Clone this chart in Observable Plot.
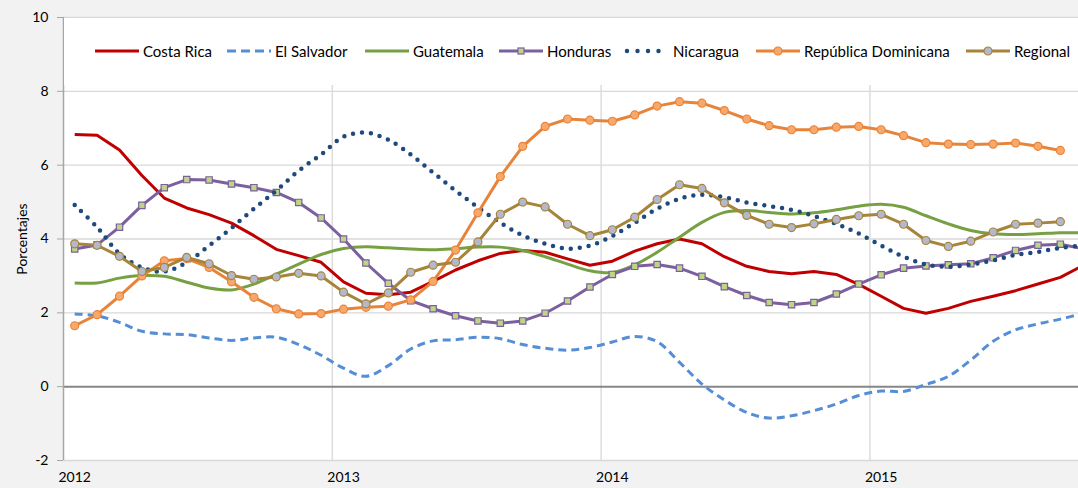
<!DOCTYPE html>
<html><head><meta charset="utf-8">
<script src="https://cdn.jsdelivr.net/npm/d3@7"></script>
<script src="https://cdn.jsdelivr.net/npm/@observablehq/plot@0.6"></script>
<style>
html,body{margin:0;padding:0;background:#f2f2f2;}
#wrap{position:relative;width:1078px;height:488px;overflow:hidden;font-family:Lato,sans-serif;}
#legend{position:absolute;top:18px;left:64px;right:0;height:67px;background:#fff;}
.item{position:absolute;top:23px;height:20px;display:flex;align-items:center;font-size:15px;color:#000;white-space:nowrap;}
.item svg{margin-right:4px;overflow:visible;}
</style></head><body><div id="wrap"></div>
<script>
// ---- data (monthly, Jan 2012 onward) ----
const years = ["2012", "2013", "2014", "2015"];
const yTicks = [-2, 0, 2, 4, 6, 8, 10];
const costaRica = [6.83,6.81,6.41,5.72,5.11,4.84,4.66,4.43,4.09,3.72,3.55,3.37,2.84,2.53,2.49,2.56,2.85,3.16,3.41,3.61,3.69,3.64,3.46,3.29,3.40,3.67,3.87,4.00,3.87,3.52,3.26,3.12,3.06,3.12,3.04,2.77,2.45,2.12,1.99,2.12,2.31,2.45,2.60,2.78,2.96,3.28];
const elSalvador = [1.97,1.92,1.74,1.50,1.43,1.41,1.32,1.25,1.32,1.34,1.14,0.85,0.50,0.28,0.57,1.02,1.24,1.27,1.34,1.30,1.14,1.04,0.99,1.06,1.21,1.36,1.22,0.66,0.07,-0.36,-0.70,-0.85,-0.79,-0.65,-0.47,-0.24,-0.12,-0.13,0.06,0.28,0.72,1.23,1.54,1.70,1.83,1.98];
const guatemala = [2.81,2.81,2.94,3.01,2.99,2.83,2.67,2.62,2.78,3.05,3.32,3.58,3.74,3.79,3.76,3.73,3.71,3.74,3.78,3.78,3.69,3.52,3.32,3.14,3.09,3.30,3.64,4.05,4.45,4.72,4.77,4.72,4.68,4.71,4.79,4.89,4.94,4.86,4.63,4.41,4.23,4.14,4.12,4.14,4.17,4.17];
const honduras = [3.73,3.84,4.32,4.91,5.39,5.61,5.60,5.49,5.39,5.26,4.99,4.57,4.00,3.35,2.80,2.33,2.11,1.92,1.78,1.72,1.78,1.99,2.32,2.70,3.04,3.26,3.31,3.21,2.99,2.71,2.47,2.28,2.22,2.28,2.51,2.78,3.03,3.21,3.27,3.30,3.33,3.49,3.69,3.83,3.86,3.74];
const nicaragua = [4.92,4.32,3.60,3.23,3.12,3.37,3.82,4.30,4.82,5.31,5.85,6.29,6.77,6.88,6.69,6.29,5.80,5.31,4.86,4.44,4.10,3.87,3.74,3.82,4.08,4.44,4.82,5.09,5.20,5.13,4.99,4.89,4.79,4.62,4.41,4.15,3.82,3.52,3.31,3.25,3.31,3.42,3.57,3.65,3.76,3.82];
const repDominicana = [1.65,1.95,2.45,3.00,3.41,3.47,3.23,2.84,2.42,2.11,1.97,1.98,2.10,2.15,2.18,2.35,2.85,3.70,4.71,5.69,6.51,7.05,7.25,7.22,7.19,7.36,7.60,7.72,7.68,7.48,7.25,7.07,6.96,6.96,7.03,7.05,6.96,6.80,6.61,6.57,6.56,6.57,6.60,6.51,6.40];
const regional = [3.87,3.83,3.53,3.12,3.23,3.50,3.33,3.01,2.91,2.97,3.07,3.00,2.56,2.24,2.54,3.10,3.29,3.37,3.92,4.67,5.00,4.87,4.40,4.09,4.25,4.59,5.07,5.47,5.37,4.98,4.64,4.40,4.31,4.41,4.53,4.63,4.67,4.40,3.96,3.80,3.94,4.19,4.40,4.43,4.47];

const series = [
  {name:"Costa Rica", values:costaRica, color:"#c00000", dash:null, cap:"butt", curve:"linear", marker:null, legendLeft:95},
  {name:"El Salvador", values:elSalvador, color:"#558ed5", dash:"8,5", cap:"butt", curve:"catmull-rom", marker:null, legendLeft:227},
  {name:"Guatemala", values:guatemala, color:"#77a042", dash:null, cap:"butt", curve:"catmull-rom", marker:null, legendLeft:365},
  {name:"Honduras", values:honduras, color:"#7b5f9e", dash:null, cap:"butt", curve:"linear", marker:{symbol:"square", r:3.6, fill:"#bdd585", stroke:"#7b5f9e"}, legendLeft:499},
  {name:"Nicaragua", values:nicaragua, color:"#1f497d", dash:"0,9", cap:"round", width:4.5, curve:"catmull-rom", marker:null, legendLeft:625},
  {name:"República Dominicana", values:repDominicana, color:"#e8843a", dash:null, cap:"butt", curve:"linear", marker:{symbol:"circle", r:4, fill:"#f8a86a", stroke:"#e8843a"}, legendLeft:756},
  {name:"Regional", values:regional, color:"#a6843a", dash:null, cap:"butt", curve:"linear", marker:{symbol:"circle", r:4, fill:"#b3b8cc", stroke:"#a6843a"}, legendLeft:966}
];

const marks = [
  Plot.frame({fill:"white", stroke:null}),
  Plot.ruleY(yTicks.filter(d => d !== 0), {stroke:"#d9d9d9", strokeWidth:1.3}),
  Plot.ruleX([11.5, 23.5, 35.5], {stroke:"#dcdcdc", strokeWidth:1.5}),
  Plot.ruleY([0], {stroke:"#868686", strokeWidth:2}),
  Plot.ruleX([-0.5], {stroke:"#a6a6a6", strokeWidth:1.5}),
  Plot.axisY(yTicks, {tickSize:6, tickPadding:9, stroke:"#a6a6a6", fill:"#000", fontSize:14,
    tickFormat: d => String(d),
    label:"Porcentajes", labelAnchor:"center", labelArrow:"none", labelOffset:46}),
  Plot.axisX([0, 12, 24, 36], {tickSize:0, tickPadding:12, fill:"#000", fontSize:14,
    tickFormat: d => years[d / 12], label:null})
];
for (const s of series) {
  marks.push(Plot.line(s.values, {x:(d, i) => i, y:d => d, stroke:s.color, strokeWidth:s.width || 3,
    strokeDasharray:s.dash, strokeLinecap:s.cap, strokeLinejoin:"round", curve:s.curve, clip:true}));
  if (s.marker) {
    marks.push(Plot.dot(s.values, {x:(d, i) => i, y:d => d, symbol:s.marker.symbol, r:s.marker.r,
      fill:s.marker.fill, stroke:s.marker.stroke, strokeWidth:1.2, clip:true}));
  }
}

const chart = Plot.plot({
  width:1078, height:488,
  marginLeft:63, marginRight:0, marginTop:17, marginBottom:28,
  style:{background:"#f2f2f2", fontFamily:"Lato, sans-serif", fontSize:"14px", color:"#000"},
  x:{type:"linear", domain:[-0.5, 44.81]},
  y:{domain:[-2, 10]},
  marks
});
const wrap = document.getElementById("wrap");
wrap.appendChild(chart);

// legend (inside plot area, white box)
const leg = document.createElement("div");
leg.id = "legend";
for (const s of series) {
  const it = document.createElement("div");
  it.className = "item";
  it.style.left = (s.legendLeft - 64) + "px";
  let sw = `<svg width="44" height="10"><line x1="${s.name === "Nicaragua" ? 2 : 0}" y1="5" x2="44" y2="5" stroke="${s.color}" stroke-width="${s.width || 3}"` +
    (s.dash ? ` stroke-dasharray="${s.name === "Nicaragua" ? "0,10.5" : "9,5"}" stroke-linecap="${s.cap}"` : "") + `/>`;
  if (s.marker) {
    if (s.marker.symbol === "square") sw += `<rect x="19" y="2" width="6" height="6" fill="${s.marker.fill}" stroke="${s.marker.stroke}" stroke-width="1.2"/>`;
    else sw += `<circle cx="22" cy="5" r="4" fill="${s.marker.fill}" stroke="${s.marker.stroke}" stroke-width="1.2"/>`;
  }
  sw += `</svg>`;
  it.innerHTML = sw + `<span>${s.name}</span>`;
  leg.appendChild(it);
}
wrap.appendChild(leg);
</script></body></html>
